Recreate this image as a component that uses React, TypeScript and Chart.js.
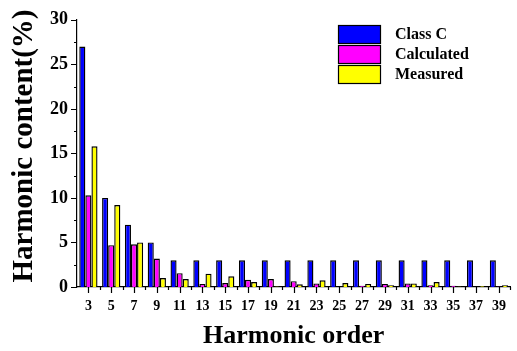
import React, { useEffect, useRef } from "react";
import { Chart, registerables } from "chart.js";

Chart.register(...registerables);

const categories = ["3","5","7","9","11","13","15","17","19","21","23","25","27","29","31","33","35","37","39"];
const classC = [27,10,7,5,3,3,3,3,3,3,3,3,3,3,3,3,3,3,3];
const calculated = [10.3,4.7,4.8,3.2,1.55,0.35,0.45,0.8,0.9,0.65,0.4,0,0.15,0.35,0.4,0.2,0.15,0,0.05];
const measured = [15.8,9.2,5.0,1.0,0.9,1.5,1.2,0.55,0.08,0.3,0.75,0.45,0.35,0.2,0.4,0.55,0.05,0.1,0.2];
const yTicks = [0,5,10,15,20,25,30];
const yTitle = "Harmonic content(%)";
const xTitle = "Harmonic order";

const FONT = "'Liberation Serif', 'Times New Roman', serif";

const tickPlugin = {
  id: "customTicks",
  afterDraw(chart: any) {
    const { ctx, chartArea, scales } = chart;
    const x = scales.x, y = scales.y;
    ctx.save();
    ctx.strokeStyle = "#000";
    ctx.lineWidth = 1.2;
    ctx.beginPath();
    for (let v = 0; v <= 30; v += 2.5) {
      const py = Math.round(y.getPixelForValue(v)) + 0.5;
      const len = v % 5 === 0 ? 6 : 3;
      ctx.moveTo(chartArea.left, py);
      ctx.lineTo(chartArea.left - len, py);
    }
    const n = categories.length;
    const w = (chartArea.right - chartArea.left) / n;
    for (let i = 0; i < n; i++) {
      const cx = Math.round(x.getPixelForValue(i)) + 0.5;
      ctx.moveTo(cx, chartArea.bottom);
      ctx.lineTo(cx, chartArea.bottom + 6);
      const bx = Math.round(chartArea.left + w * (i + 1)) + 0.5;
      ctx.moveTo(bx, chartArea.bottom);
      ctx.lineTo(bx, chartArea.bottom + 3);
    }
    ctx.stroke();
    // y title
    ctx.fillStyle = "#000";
    ctx.font = `bold 29px ${FONT}`;
    ctx.textAlign = "center";
    ctx.textBaseline = "middle";
    ctx.translate(25, 146);
    ctx.rotate(-Math.PI / 2);
    ctx.fillText(yTitle, 0, 0);
    ctx.restore();
  },
};

const legendPlugin = {
  id: "customLegend",
  afterDraw(chart: any) {
    const { ctx } = chart;
    ctx.save();
    chart.data.datasets.forEach((ds: any, i: number) => {
      const top = 25 + i * 20;
      ctx.fillStyle = ds.backgroundColor;
      ctx.fillRect(338, top, 42, 18);
      ctx.strokeStyle = "#000";
      ctx.lineWidth = 1.2;
      ctx.strokeRect(338.5, top + 0.5, 42, 18);
      ctx.fillStyle = "#000";
      ctx.font = `bold 16px ${FONT}`;
      ctx.textBaseline = "middle";
      ctx.textAlign = "left";
      ctx.fillText(ds.label, 395, top + 10);
    });
    ctx.restore();
  },
};

export default function App() {
  const ref = useRef<HTMLCanvasElement>(null);
  useEffect(() => {
    if (!ref.current) return;
    const chart = new Chart(ref.current, {
      type: "bar",
      data: {
        labels: categories,
        datasets: [
          { label: "Class C", data: classC, backgroundColor: "#0000FF", borderColor: "#000", borderWidth: 1.4 },
          { label: "Calculated", data: calculated, backgroundColor: "#FF00FF", borderColor: "#000", borderWidth: 1.4 },
          { label: "Measured", data: measured, backgroundColor: "#FFFF00", borderColor: "#000", borderWidth: 1.4 },
        ],
      },
      options: {
        responsive: false,
        animation: false,
        layout: { padding: { top: 15, right: 3, left: 0, bottom: 0 } },
        plugins: { legend: { display: false }, tooltip: { enabled: false } },
        datasets: { bar: { categoryPercentage: 0.8, barPercentage: 1 } },
        scales: {
          x: {
            grid: { display: false, drawTicks: false },
            border: { display: true, color: "#000", width: 1.2 },
            ticks: {
              color: "#000",
              font: { family: FONT, weight: "bold", size: 14 },
              autoSkip: false,
              maxRotation: 0,
              padding: 11,
            },
            title: {
              display: true,
              text: xTitle,
              color: "#000",
              font: { family: FONT, weight: "bold", size: 26, lineHeight: 1 },
              padding: { top: 0, bottom: 2 },
            },
            afterFit(scale: any) { scale.height = 351 - 287; },
          },
          y: {
            min: 0,
            max: 30,
            afterBuildTicks(scale: any) { scale.ticks = yTicks.map((v) => ({ value: v })); },
            grid: { display: false, drawTicks: false },
            border: { display: true, color: "#000", width: 1.2 },
            ticks: {
              color: "#000",
              font: { family: FONT, weight: "bold", size: 18 },
              padding: 9,
            },
            title: { display: false },
            afterFit(scale: any) { scale.width = 77; },
          },
        },
      },
      plugins: [tickPlugin, legendPlugin],
    });
    return () => chart.destroy();
  }, []);
  return (
    <div style={{ position: "fixed", left: 0, top: 0, width: 517, height: 351, background: "#fff" }}>
      <canvas ref={ref} width={517} height={351} style={{ width: 517, height: 351 }} />
    </div>
  );
}
